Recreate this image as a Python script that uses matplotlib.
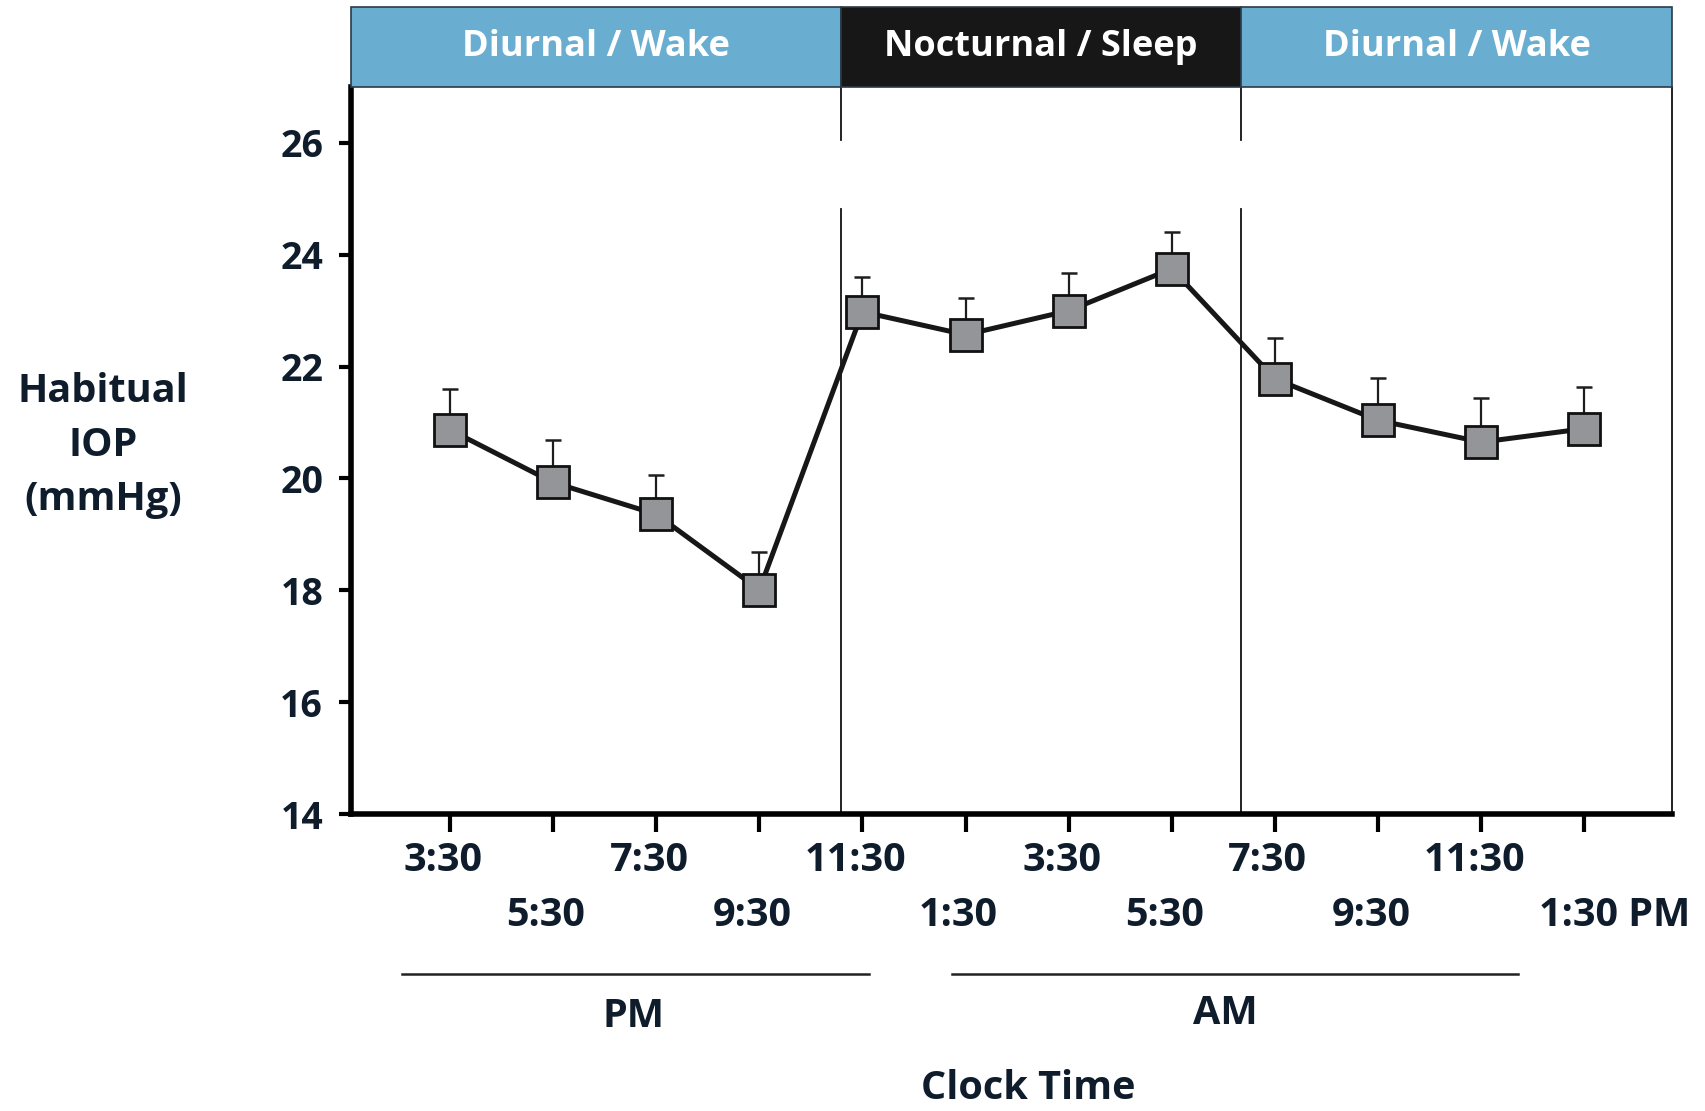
"""
Habitual IOP over a 24 h cycle (diurnal / nocturnal periods)
"""

import matplotlib
matplotlib.use('Agg')
import matplotlib.pyplot as plt
from matplotlib.patches import Rectangle
import matplotlib.transforms as mtransforms

plt.rcParams['font.family'] = ['Open Sans', 'DejaVu Sans']
plt.rcParams['font.weight'] = 'bold'

# datos
clock_labels = ['3:30', '5:30', '7:30', '9:30', '11:30', '1:30',
                '3:30', '5:30', '7:30', '9:30', '11:30', '1:30 PM']
iop_mean = [20.87, 19.93, 19.36, 18.01, 22.98, 22.57,
            23.00, 23.75, 21.78, 21.04, 20.65, 20.89]
iop_sem = [0.73, 0.76, 0.70, 0.68, 0.63, 0.66,
           0.67, 0.65, 0.73, 0.75, 0.78, 0.74]
periods = ['Diurnal / Wake', 'Nocturnal / Sleep', 'Diurnal / Wake']
period_edges = [0.04, 4.795, 8.67, 12.85]
period_colors = ['#69aed0', '#171717', '#69aed0']
y_ticks = [14, 16, 18, 20, 22, 24, 26]

TXT = '#0e1c2b'
FS = 28.5

x = list(range(1, len(iop_mean) + 1))

fig = plt.figure(figsize=(17.06, 11.11), dpi=100)
ax = fig.add_axes([0.2057, 0.2673, 0.9801 - 0.2057, 0.9217 - 0.2673])

# separadores de periodo (con hueco entre ~24.8 y ~26.05)
for xe in period_edges[1:3]:
    ax.plot([xe, xe], [14, 24.81], color='#111111', lw=1.3, zorder=1)
    ax.plot([xe, xe], [26.06, 27.0], color='#111111', lw=1.3, zorder=1)

# barras de error (solo hacia arriba)
ax.errorbar(x, iop_mean, yerr=[[0] * len(iop_sem), iop_sem], fmt='none',
            ecolor='#1e1e1e', elinewidth=1.6, capsize=5.5, capthick=1.8, zorder=2)
ax.plot(x, iop_mean, color='#171717', lw=3.6, marker='s', markersize=22.5,
        markerfacecolor='#939598', markeredgecolor='#111111',
        markeredgewidth=2.0, zorder=3)

ax.set_xlim(0.04, 12.85)
ax.set_ylim(14, 27)

for side in ['left', 'bottom']:
    ax.spines[side].set_linewidth(4.0)
    ax.spines[side].set_color('black')
ax.spines['right'].set_linewidth(1.3)
ax.spines['right'].set_color('#111111')
ax.spines['top'].set_visible(False)

ax.set_yticks(y_ticks)
ax.set_yticklabels([str(v) for v in y_ticks], fontsize=27, fontweight='bold', color=TXT)
ax.tick_params(axis='y', direction='out', length=9, width=3, pad=11, color='black')
ax.set_xticks(x)
ax.set_xticklabels([])
ax.tick_params(axis='x', direction='out', length=13, width=3, color='black')

# etiquetas de hora escalonadas
trans = mtransforms.blended_transform_factory(ax.transData, ax.transAxes)
for i, lab in enumerate(clock_labels):
    yy = -0.0646 if i % 2 == 0 else -0.139
    if lab.endswith('PM'):
        ax.text(11.56, yy, lab, transform=trans, ha='left', va='center',
                fontsize=FS, fontweight='bold', color=TXT)
    else:
        ax.text(x[i] - 0.07, yy, lab, transform=trans, ha='center', va='center',
                fontsize=FS, fontweight='bold', color=TXT)

# lineas PM / AM
ax.plot([0.534, 5.06], [-0.220, -0.220], transform=trans, clip_on=False,
        color='#222222', lw=1.8)
ax.plot([5.87, 11.36], [-0.220, -0.220], transform=trans, clip_on=False,
        color='#222222', lw=1.8)
ax.text(2.78, -0.279, 'PM', transform=trans, ha='center', va='center',
        fontsize=FS, fontweight='bold', color=TXT)
ax.text(8.52, -0.275, 'AM', transform=trans, ha='center', va='center',
        fontsize=FS, fontweight='bold', color=TXT)
ax.text(6.61, -0.378, 'Clock Time', transform=trans, ha='center', va='center',
        fontsize=FS, fontweight='bold', color=TXT)

# cabecera de periodos
for i, name in enumerate(periods):
    x0, x1 = period_edges[i], period_edges[i + 1]
    ax.add_patch(Rectangle((x0, 1.0), x1 - x0, 0.110, transform=trans,
                           facecolor=period_colors[i], edgecolor='#2b3a48',
                           lw=1.2, clip_on=False, zorder=5))
    ax.text((x0 + x1) / 2, 1.055, name, transform=trans, ha='center', va='center',
            fontsize=26, fontweight='bold', color='white', zorder=6)

fig.text(0.0604, 0.5986, 'Habitual\nIOP\n(mmHg)', ha='center', va='center',
         fontsize=FS, fontweight='bold', color=TXT, linespacing=1.5)

plt.savefig('out.png', dpi=100)
plt.close()
